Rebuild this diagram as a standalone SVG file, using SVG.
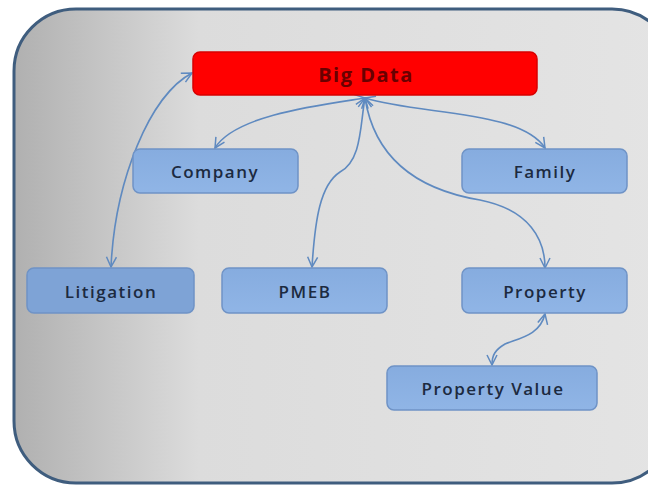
<svg xmlns="http://www.w3.org/2000/svg" width="648" height="486" viewBox="0 0 648 486">
<defs>
<linearGradient id="bg" x1="0" y1="0" x2="1" y2="0">
<stop offset="0" stop-color="#b0b0b0"/>
<stop offset="0.28" stop-color="#dcdcdc"/>
<stop offset="1" stop-color="#e4e4e4"/>
</linearGradient>
<linearGradient id="nb" x1="0" y1="0" x2="0" y2="1">
<stop offset="0" stop-color="#86acdf"/>
<stop offset="1" stop-color="#90b5e6"/>
</linearGradient>
<marker id="ah" viewBox="0 0 12 12" refX="11" refY="6" markerWidth="12" markerHeight="12" markerUnits="userSpaceOnUse" orient="auto-start-reverse">
<path d="M1,1 L11,6 L1,11" fill="none" stroke="#5f8ac0" stroke-width="1.5"/>
</marker>
</defs>
<style>
.node rect{fill:url(#nb);stroke:#6f93c6;stroke-width:1.5}
.node text{font-family:"Open Sans","Liberation Sans",sans-serif;font-size:17px;font-weight:600;letter-spacing:1.5px;fill:#1c2a40;text-anchor:middle;dominant-baseline:central}
.dark rect{fill:#7ea3d6}
#connectors path{fill:none;stroke:#5f8ac0;stroke-width:1.6;marker-start:url(#ah);marker-end:url(#ah)}
</style>
<rect x="0" y="0" width="648" height="486" fill="#ffffff"/>
<rect id="frame" x="14" y="9" width="660" height="474" rx="62" ry="62" fill="url(#bg)" stroke="#3f5d7e" stroke-width="3"/>
<g id="connectors">
<path d="M192,73 C150,95 115,180 111,267"/>
<path d="M365,98 C320,105 235,115 215,148"/>
<path d="M365,98 C420,115 520,110 545,148"/>
<path d="M365,98 C360,125 362,160 340,172 C320,185 315,220 312,267"/>
<path d="M365,98 C375,160 420,190 480,200 C530,210 545,240 545,268"/>
<path d="M545,314 C540,335 520,338 505,344 C495,350 492,355 492,365"/>
</g>
<g id="bigdata">
<rect x="193" y="52" width="344" height="43" rx="7" ry="7" fill="#ff0000" stroke="#d80000" stroke-width="1.5"/>
<text x="366" y="74" font-family="'Open Sans','Liberation Sans',sans-serif" font-size="20" font-weight="700" letter-spacing="1.5" fill="#6a0000" text-anchor="middle" dominant-baseline="central">Big Data</text>
</g>
<g id="company" class="node"><rect x="133" y="149" width="165" height="44" rx="7"/><text x="215" y="171">Company</text></g>
<g id="family" class="node"><rect x="462" y="149" width="165" height="44" rx="7"/><text x="545" y="171">Family</text></g>
<g id="litigation" class="node dark"><rect x="27" y="268" width="167" height="45" rx="7"/><text x="111" y="291">Litigation</text></g>
<g id="pmeb" class="node"><rect x="222" y="268" width="165" height="45" rx="7"/><text x="305" y="291">PMEB</text></g>
<g id="property" class="node"><rect x="462" y="268" width="165" height="45" rx="7"/><text x="545" y="291">Property</text></g>
<g id="propertyvalue" class="node"><rect x="387" y="366" width="210" height="44" rx="7"/><text x="493" y="388">Property Value</text></g>
</svg>
